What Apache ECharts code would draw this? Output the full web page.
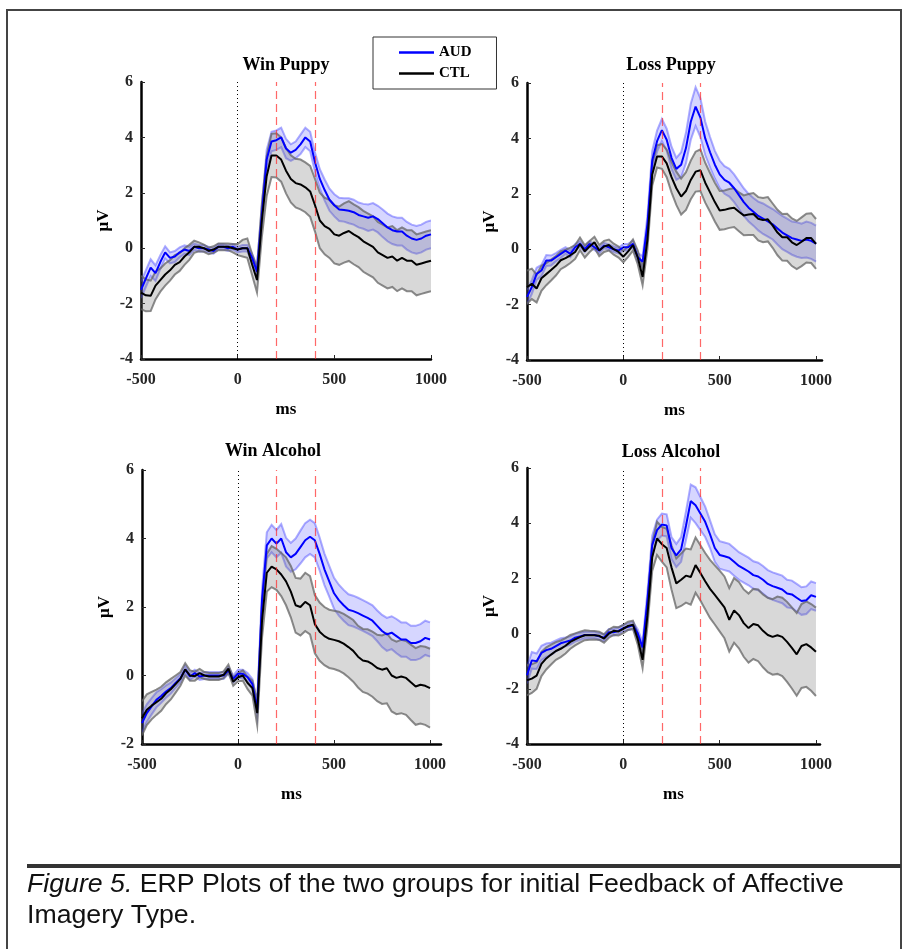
<!DOCTYPE html>
<html>
<head>
<meta charset="utf-8">
<title>ERP plots</title>
<script src="https://cdn.jsdelivr.net/npm/echarts@6/dist/echarts.min.js"></script>
<style>
  html, body { margin: 0; padding: 0; background: #fff; }
  #main { width: 908px; height: 949px; }
</style>
</head>
<body>
<div id="main"></div>
<script>
// time points (ms), 25 ms apart
var ms = [-500,-475,-450,-425,-400,-375,-350,-325,-300,-275,-250,-225,-200,-175,-150,-125,-100,-75,-50,-25,
  0,25,50,75,100,125,150,175,200,225,250,275,300,325,350,375,400,425,450,475,
  500,525,550,575,600,625,650,675,700,725,750,775,800,825,850,875,900,925,950,975,1000];

// vertical markers: onset, window start, window end
var markers = [0, 200, 400];
var xTicks = [-500, 0, 500, 1000];

// Win Puppy
var winPuppyAud = [-1.5,-1.1,-0.7,-0.9,-0.5,-0.15,-0.35,-0.3,-0.15,-0.05,
  -0.1,0.05,0.0,0.0,-0.05,-0.1,0.05,0.05,0.0,0.05,
  -0.05,0.0,0.0,-0.35,-0.85,1.2,3.2,3.85,3.9,4.0,
  3.6,3.45,3.55,3.75,4.0,3.85,3.1,2.5,2.1,1.75,
  1.55,1.4,1.38,1.35,1.3,1.2,1.15,1.1,1.15,1.05,
  0.9,0.75,0.65,0.6,0.6,0.45,0.35,0.3,0.35,0.45,0.5];
var winPuppyAudSe = [0.3,0.3,0.3,0.28,0.25,0.22,0.2,0.2,0.18,0.15,
  0.15,0.12,0.12,0.12,0.1,0.1,0.1,0.1,0.1,0.1,
  0.1,0.12,0.12,0.15,0.2,0.3,0.35,0.35,0.35,0.35,
  0.35,0.3,0.3,0.35,0.35,0.35,0.35,0.35,0.38,0.4,
  0.4,0.42,0.42,0.45,0.45,0.45,0.45,0.48,0.48,0.48,
  0.5,0.5,0.5,0.5,0.5,0.5,0.5,0.5,0.5,0.5,0.5];
var winPuppyCtl = [-1.6,-1.7,-1.72,-1.35,-1.15,-0.95,-0.8,-0.6,-0.5,-0.3,
  -0.15,0.05,0.05,0.0,-0.1,-0.05,0.05,0.05,0.05,0.0,
  -0.05,0.0,0.0,-0.6,-1.15,1.0,2.6,3.35,3.35,3.2,
  2.8,2.5,2.35,2.3,2.2,2.05,1.55,1.0,0.8,0.7,
  0.5,0.45,0.55,0.62,0.5,0.4,0.25,0.15,0.05,-0.15,
  -0.25,-0.35,-0.3,-0.45,-0.35,-0.45,-0.45,-0.6,-0.55,-0.5,-0.45];
var winPuppyCtlSe = [0.6,0.58,0.55,0.5,0.42,0.4,0.37,0.35,0.32,0.3,
  0.27,0.22,0.16,0.13,0.12,0.12,0.12,0.12,0.12,0.15,
  0.2,0.3,0.35,0.38,0.45,0.6,0.72,0.78,0.8,0.8,
  0.82,0.85,0.88,0.9,0.9,0.92,0.95,1.0,1.02,1.05,
  1.05,1.05,1.07,1.08,1.08,1.08,1.1,1.1,1.1,1.1,
  1.1,1.1,1.1,1.1,1.1,1.1,1.1,1.1,1.1,1.1,1.1];

// Loss Puppy
var lossPuppyAud = [-1.72,-1.37,-0.89,-0.77,-0.41,-0.41,-0.29,-0.17,-0.05,-0.17,
  0.07,0.19,0.0,0.19,0.07,-0.05,0.13,0.07,0.0,-0.05,
  0.07,0.07,0.19,-0.29,-0.45,0.9,3.2,3.9,4.3,3.95,
  3.3,2.9,3.05,3.65,4.6,5.15,4.75,4.0,3.5,3.05,
  2.7,2.5,2.4,2.2,1.95,1.7,1.5,1.35,1.2,1.1,
  1.0,0.9,0.75,0.6,0.5,0.4,0.35,0.3,0.35,0.3,0.2];
var lossPuppyAudSe = [0.25,0.25,0.22,0.2,0.2,0.18,0.15,0.15,0.12,0.12,
  0.12,0.1,0.1,0.1,0.1,0.1,0.1,0.1,0.1,0.1,
  0.12,0.12,0.12,0.15,0.2,0.3,0.35,0.38,0.4,0.4,
  0.4,0.4,0.45,0.55,0.65,0.7,0.7,0.6,0.55,0.5,
  0.5,0.5,0.5,0.5,0.5,0.5,0.5,0.5,0.52,0.55,
  0.55,0.55,0.58,0.6,0.6,0.6,0.62,0.62,0.65,0.65,0.65];
var lossPuppyCtl = [-1.37,-1.25,-1.42,-1.05,-0.9,-0.75,-0.6,-0.4,-0.32,-0.22,
  -0.1,0.19,-0.08,0.1,0.25,-0.05,0.1,0.15,0.0,-0.1,
  -0.27,-0.08,0.15,-0.3,-1.0,0.35,2.7,3.35,3.35,3.1,
  2.6,2.2,1.9,2.1,2.5,2.8,2.85,2.4,2.05,1.7,
  1.4,1.42,1.47,1.5,1.35,1.22,1.25,1.27,1.1,1.05,
  1.08,0.85,0.6,0.43,0.43,0.25,0.15,0.27,0.4,0.4,0.19];
var lossPuppyCtlSe = [0.6,0.55,0.5,0.45,0.4,0.38,0.35,0.32,0.3,0.28,
  0.25,0.23,0.22,0.2,0.2,0.2,0.2,0.2,0.2,0.2,
  0.2,0.2,0.2,0.25,0.3,0.35,0.4,0.4,0.45,0.5,
  0.55,0.6,0.65,0.68,0.7,0.72,0.75,0.72,0.7,0.7,
  0.7,0.7,0.7,0.7,0.7,0.72,0.74,0.76,0.78,0.8,
  0.8,0.8,0.82,0.84,0.85,0.86,0.87,0.88,0.88,0.9,0.9];

// Win Alcohol
var winAlcoholAud = [-1.39,-1.1,-0.9,-0.71,-0.6,-0.47,-0.37,-0.22,-0.08,0.17,
  -0.03,0.07,-0.03,0.0,0.0,0.0,0.0,0.0,0.15,-0.1,
  0.05,0.05,-0.05,-0.25,-1.0,2.2,3.8,4.0,3.85,4.0,
  3.6,3.45,3.55,3.75,3.95,4.05,3.95,3.55,3.1,2.75,
  2.4,2.2,2.05,1.92,1.88,1.82,1.75,1.68,1.6,1.45,
  1.3,1.2,1.25,1.15,1.05,1.05,0.95,0.95,1.0,1.1,1.05];
var winAlcoholAudSe = [0.28,0.26,0.24,0.22,0.2,0.18,0.16,0.14,0.12,0.12,
  0.1,0.1,0.1,0.1,0.1,0.1,0.1,0.1,0.1,0.1,
  0.12,0.12,0.12,0.15,0.2,0.3,0.38,0.4,0.4,0.42,
  0.42,0.42,0.45,0.48,0.5,0.5,0.5,0.48,0.46,0.45,
  0.45,0.45,0.45,0.45,0.45,0.45,0.45,0.45,0.45,0.45,
  0.47,0.48,0.48,0.5,0.5,0.5,0.5,0.5,0.5,0.5,0.5];
var winAlcoholCtl = [-1.25,-1.0,-0.88,-0.78,-0.68,-0.52,-0.4,-0.25,-0.1,0.18,
  0.0,-0.02,0.07,0.0,-0.03,-0.03,-0.03,0.02,0.2,-0.18,
  -0.05,0.0,-0.22,-0.37,-1.1,1.6,3.0,3.18,3.1,2.95,
  2.75,2.45,2.05,2.0,2.15,2.05,1.5,1.28,1.15,1.07,
  1.04,1.0,0.93,0.83,0.72,0.55,0.44,0.41,0.33,0.22,
  0.17,0.21,0.0,-0.07,-0.03,-0.07,-0.2,-0.32,-0.27,-0.3,-0.37];
var winAlcoholCtlSe = [0.5,0.45,0.4,0.37,0.35,0.32,0.3,0.25,0.2,0.18,
  0.15,0.13,0.12,0.1,0.1,0.1,0.1,0.1,0.12,0.12,
  0.12,0.15,0.18,0.22,0.35,0.5,0.55,0.6,0.6,0.63,
  0.7,0.75,0.8,0.83,0.85,0.85,0.85,0.85,0.85,0.85,
  0.85,0.86,0.87,0.88,0.9,0.9,0.92,0.94,0.95,0.97,
  1.0,1.02,1.05,1.06,1.07,1.08,1.1,1.12,1.13,1.14,1.15];

// Loss Alcohol
var lossAlcoholAud = [-1.51,-0.97,-1.0,-0.7,-0.6,-0.55,-0.45,-0.35,-0.3,-0.25,
  -0.15,-0.1,-0.05,-0.05,-0.05,-0.1,-0.15,0.05,0.05,0.1,
  0.2,0.25,0.3,0.0,-0.5,1.2,3.2,3.75,3.95,3.92,
  3.1,2.83,3.05,3.9,4.8,4.65,4.35,4.05,3.6,3.1,
  2.85,2.8,2.75,2.6,2.45,2.35,2.25,2.12,2.07,1.95,
  1.8,1.72,1.66,1.6,1.45,1.42,1.3,1.18,1.21,1.39,1.33];
var lossAlcoholAudSe = [0.3,0.3,0.28,0.26,0.24,0.22,0.2,0.18,0.16,0.15,
  0.14,0.13,0.12,0.12,0.12,0.12,0.12,0.12,0.12,0.12,
  0.12,0.12,0.13,0.15,0.2,0.3,0.35,0.38,0.4,0.4,
  0.4,0.42,0.45,0.52,0.6,0.65,0.6,0.55,0.5,0.5,
  0.5,0.5,0.5,0.5,0.5,0.5,0.5,0.5,0.5,0.5,
  0.5,0.5,0.5,0.5,0.5,0.5,0.5,0.5,0.5,0.5,0.5];
var lossAlcoholCtl = [-1.69,-1.63,-1.52,-1.1,-0.9,-0.76,-0.63,-0.55,-0.44,-0.3,
  -0.21,-0.13,-0.06,-0.06,-0.06,-0.08,-0.18,0.0,0.1,0.08,
  0.17,0.28,0.32,-0.2,-0.95,0.65,2.77,3.45,3.24,3.1,
  2.4,1.82,1.95,2.1,2.05,2.48,2.2,1.9,1.62,1.4,
  1.18,0.95,0.5,0.84,0.67,0.38,0.2,0.35,0.3,0.1,
  -0.05,-0.12,-0.06,-0.12,-0.3,-0.52,-0.75,-0.45,-0.38,-0.5,-0.66];
var lossAlcoholCtlSe = [0.55,0.52,0.48,0.44,0.4,0.36,0.32,0.3,0.28,0.25,
  0.22,0.2,0.18,0.16,0.15,0.15,0.15,0.15,0.15,0.15,
  0.15,0.15,0.15,0.2,0.3,0.4,0.5,0.6,0.63,0.7,
  0.8,0.9,0.95,0.98,1.0,1.0,1.0,1.02,1.05,1.07,
  1.1,1.12,1.15,1.17,1.2,1.22,1.25,1.27,1.3,1.32,
  1.35,1.37,1.4,1.42,1.45,1.47,1.5,1.52,1.55,1.57,1.6];

var serif = '"Liberation Serif", "Times New Roman", serif';
var sans = '"Liberation Sans", Arial, sans-serif';

var panels = [
  { title: 'Win Puppy',    tx: 286, ty: 65,  left: 141, top: 82,  width: 290, height: 277, yMin: -4, yMax: 6, xMax: 1000,
    aud: winPuppyAud, audSe: winPuppyAudSe, ctl: winPuppyCtl, ctlSe: winPuppyCtlSe },
  { title: 'Loss Puppy',   tx: 671, ty: 65,  left: 527, top: 83,  width: 295, height: 277, yMin: -4, yMax: 6, xMax: 1031,
    aud: lossPuppyAud, audSe: lossPuppyAudSe, ctl: lossPuppyCtl, ctlSe: lossPuppyCtlSe },
  { title: 'Win Alcohol',  tx: 273, ty: 451, left: 142, top: 470, width: 299, height: 274, yMin: -2, yMax: 6, xMax: 1057,
    aud: winAlcoholAud, audSe: winAlcoholAudSe, ctl: winAlcoholCtl, ctlSe: winAlcoholCtlSe },
  { title: 'Loss Alcohol', tx: 671, ty: 452, left: 527, top: 468, width: 293, height: 276, yMin: -4, yMax: 6, xMax: 1021,
    aud: lossAlcoholAud, audSe: lossAlcoholAudSe, ctl: lossAlcoholCtl, ctlSe: lossAlcoholCtlSe }
];

function pairs(vals) {
  return ms.map(function (t, i) { return [t, vals[i]]; });
}

// shaded mean +/- se band, drawn once as a polygon through the axis scales
function band(name, k, mean, se, edge, fill) {
  var lower = mean.map(function (v, i) { return v - se[i]; });
  var upper = mean.map(function (v, i) { return v + se[i]; });
  return {
    name: name + ' band', type: 'custom', xAxisIndex: k, yAxisIndex: k, silent: true, clip: true,
    data: ms.map(function (t, i) { return [t, lower[i], upper[i]]; }),
    encode: { x: 0, y: [1, 2] },
    renderItem: function (params, api) {
      if (params.dataIndex !== 0) return null;
      var top = [], bottom = [];
      for (var i = 0; i < ms.length; i++) {
        top.push(api.coord([ms[i], upper[i]]));
        bottom.push(api.coord([ms[i], lower[i]]));
      }
      var poly = top.concat(bottom.slice().reverse());
      return {
        type: 'group',
        children: [
          { type: 'polygon', shape: { points: poly }, style: { fill: fill, stroke: null } },
          { type: 'polyline', shape: { points: top }, style: { fill: null, stroke: edge, lineWidth: 2 } },
          { type: 'polyline', shape: { points: bottom }, style: { fill: null, stroke: edge, lineWidth: 2 } }
        ]
      };
    }
  };
}

var grids = [], xAxes = [], yAxes = [], series = [], graphics = [];

panels.forEach(function (p, k) {
  grids.push({ left: p.left, top: p.top, width: p.width, height: p.height, containLabel: false });
  xAxes.push({
    type: 'value', gridIndex: k, min: -500, max: p.xMax, interval: 500,
    name: 'ms', nameLocation: 'middle', nameGap: 42,
    nameTextStyle: { fontFamily: serif, fontWeight: 'bold', fontSize: 17, color: '#000' },
    axisLine: { show: true, onZero: false, lineStyle: { color: '#000', width: 2.5 } },
    axisTick: { show: true, inside: true, length: 4, customValues: xTicks, lineStyle: { color: '#262626' } },
    axisLabel: { margin: 13, customValues: xTicks, formatter: function (v) { return String(v); },
      fontFamily: serif, fontWeight: 'bold', fontSize: 16, color: '#262626' },
    splitLine: { show: false }
  });
  yAxes.push({
    type: 'value', gridIndex: k, min: p.yMin, max: p.yMax, interval: 2,
    name: 'μV', nameLocation: 'middle', nameGap: 29, nameRotate: 90,
    nameTextStyle: { fontFamily: serif, fontWeight: 'bold', fontSize: 17, color: '#000' },
    axisLine: { show: true, onZero: false, lineStyle: { color: '#000', width: 2.5 } },
    axisTick: { show: true, inside: true, length: 4, lineStyle: { color: '#262626' } },
    axisLabel: { margin: 8, fontFamily: serif, fontWeight: 'bold', fontSize: 16, color: '#262626' },
    splitLine: { show: false }
  });

  series.push(band('AUD', k, p.aud, p.audSe, 'rgba(60,60,255,0.42)', 'rgba(0,0,255,0.16)'));
  series.push(band('CTL', k, p.ctl, p.ctlSe, 'rgba(100,100,100,0.75)', 'rgba(110,110,110,0.27)'));
  series.push({
    name: 'AUD', type: 'line', xAxisIndex: k, yAxisIndex: k, data: pairs(p.aud),
    symbol: 'none', color: '#0000ff', lineStyle: { color: '#0000ff', width: 2 }
  });
  series.push({
    name: 'CTL', type: 'line', xAxisIndex: k, yAxisIndex: k, data: pairs(p.ctl),
    symbol: 'none', color: '#000000', lineStyle: { color: '#000000', width: 2 },
    markLine: {
      silent: true, symbol: ['none', 'none'], label: { show: false }, animation: false,
      data: markers.map(function (m) {
        return m === 0
          ? { xAxis: m, lineStyle: { type: [1, 3], color: '#000', width: 1 } }
          : { xAxis: m, lineStyle: { type: [8, 5], color: 'rgba(255,40,40,0.7)', width: 1.2 } };
      })
    }
  });

  graphics.push({
    type: 'text', x: p.tx, y: p.ty,
    style: { text: p.title, font: 'bold 18px ' + serif, fill: '#000', textAlign: 'center', textVerticalAlign: 'middle' }
  });
});

// figure frame, caption rule and caption
graphics.push({
  type: 'rect', shape: { x: 7, y: 10, width: 894, height: 945 },
  style: { fill: 'none', stroke: '#444', lineWidth: 2 }, z: -1
});
graphics.push({
  type: 'line', shape: { x1: 27, y1: 866, x2: 901, y2: 866 },
  style: { stroke: '#333', lineWidth: 4 }
});
graphics.push({
  type: 'text', x: 27, y: 869,
  style: {
    text: '{it|Figure 5.} ERP Plots of the two groups for initial Feedback of Affective\nImagery Type.',
    font: '26.7px ' + sans, fill: '#111', lineHeight: 31,
    rich: { it: { fontStyle: 'italic', fontFamily: sans, fontSize: 26.7, lineHeight: 31, fill: '#111' } }
  }
});

var myChart = echarts.init(document.getElementById('main'), null, { renderer: 'canvas' });
var option = {
  animation: false,
  backgroundColor: '#fff',
  grid: grids,
  xAxis: xAxes,
  yAxis: yAxes,
  legend: {
    data: ['AUD', 'CTL'], orient: 'vertical', left: 373, top: 37,
    padding: [7, 25, 7, 26], itemGap: 4, itemWidth: 35, itemHeight: 2.5, icon: 'rect',
    borderColor: '#333', borderWidth: 1, selectedMode: false,
    textStyle: { fontFamily: serif, fontWeight: 'bold', fontSize: 15, color: '#000', lineHeight: 17 }
  },
  graphic: graphics,
  series: series
};
myChart.setOption(option);
window.onresize = myChart.resize;
</script>
</body>
</html>
